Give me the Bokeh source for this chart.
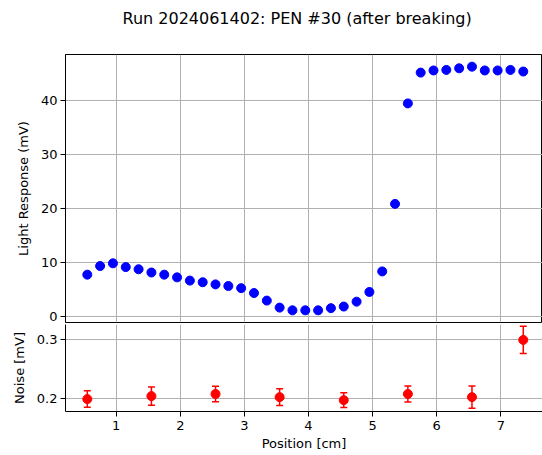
from bokeh.plotting import figure
from bokeh.models import Range1d, FixedTicker, Whisker, TeeHead, ColumnDataSource, LinearAxis
from bokeh.layouts import column
from bokeh.embed import file_html
from bokeh.resources import INLINE

title_text = "Run 2024061402: PEN #30 (after breaking)"

position = [0.55, 0.75, 0.95, 1.15, 1.35, 1.55, 1.75, 1.95, 2.15, 2.35,
            2.55, 2.75, 2.95, 3.15, 3.35, 3.55, 3.75, 3.95, 4.15, 4.35,
            4.55, 4.75, 4.95, 5.15, 5.35, 5.55, 5.75, 5.95, 6.15, 6.35,
            6.55, 6.75, 6.95, 7.15, 7.35]
light = [7.8, 9.4, 9.9, 9.2, 8.8, 8.2, 7.8, 7.3, 6.7, 6.4,
         6.0, 5.7, 5.3, 4.4, 3.0, 1.7, 1.2, 1.2, 1.2, 1.6,
         1.9, 2.8, 4.6, 8.4, 20.9, 39.5, 45.2, 45.6, 45.7, 46.0,
         46.3, 45.6, 45.6, 45.7, 45.4]

noise_pos = [0.55, 1.55, 2.55, 3.55, 4.55, 5.55, 6.55, 7.35]
noise = [0.199, 0.204, 0.2076, 0.2023, 0.1972, 0.2076, 0.2023, 0.299]
noise_err = [0.014, 0.0155, 0.013, 0.014, 0.0124, 0.0136, 0.019, 0.023]

x_ticks = [1, 2, 3, 4, 5, 6, 7]
light_ticks = [0, 10, 20, 30, 40]
noise_ticks = [0.2, 0.3]

FONT = "DejaVu Sans"
xr = Range1d(0.21, 7.65)


def style_axes(p):
    for ax in p.axis:
        ax.major_label_text_font = FONT
        ax.major_label_text_font_size = "13px"
        ax.major_label_text_color = "black"
        ax.axis_label_text_font = FONT
        ax.axis_label_text_font_size = "13px"
        ax.axis_label_text_font_style = "normal"
        ax.axis_label_text_color = "black"
        ax.major_tick_in = 0
        ax.major_tick_out = 5
        ax.major_tick_line_color = "black"
        ax.minor_tick_line_color = None
        ax.axis_line_color = "black"
    for g in p.grid:
        g.grid_line_color = "#b0b0b0"
        g.grid_line_width = 1


top = figure(width=542, height=324, x_range=xr, y_range=Range1d(-1.055, 48.555),
             output_backend="svg", toolbar_location=None,
             min_border_left=65, min_border_right=0, min_border_top=54, min_border_bottom=2)
top.xaxis.ticker = FixedTicker(ticks=x_ticks)
top.xgrid.ticker = FixedTicker(ticks=x_ticks)
top.yaxis.ticker = FixedTicker(ticks=light_ticks)
top.yaxis.axis_label = "Light Response (mV)"
style_axes(top)
top.xaxis.visible = False
top.yaxis.axis_label_standoff = 7
top.yaxis.major_label_standoff = 3
top.outline_line_color = "black"
top.outline_line_alpha = 1
top.outline_line_width = 1

# invisible spacer axis between the title and the frame
spacer = LinearAxis(ticker=FixedTicker(ticks=[4]), axis_line_color=None,
                    major_tick_line_color=None, minor_tick_line_color=None,
                    major_tick_out=25, major_tick_in=0,
                    major_label_overrides={4: ""}, major_label_standoff=0)
top.add_layout(spacer, "above")

top.title.text = title_text
top.title.text_font = FONT
top.title.text_font_size = "16px"
top.title.text_font_style = "normal"
top.title.text_color = "black"
top.title.align = "left"
top.title.offset = 57
top.title.standoff = 4

top.scatter(position, light, size=9, color="blue")

bot = figure(width=542, height=131, x_range=xr, y_range=Range1d(0.178, 0.3251),
             output_backend="svg", toolbar_location=None,
             min_border_left=65, min_border_right=0, min_border_top=0, min_border_bottom=44)
bot.xaxis.ticker = FixedTicker(ticks=x_ticks)
bot.yaxis.ticker = FixedTicker(ticks=noise_ticks)
bot.xaxis.axis_label = "Position [cm]"
bot.yaxis.axis_label = "Noise [mV]"
style_axes(bot)
bot.yaxis.axis_label_standoff = 7
bot.yaxis.major_label_standoff = 3
bot.xaxis.major_label_standoff = 4
bot.xaxis.axis_label_standoff = 3
bot.outline_line_color = None

src = ColumnDataSource(dict(x=noise_pos, y=noise,
                            lo=[v - e for v, e in zip(noise, noise_err)],
                            hi=[v + e for v, e in zip(noise, noise_err)]))
bot.add_layout(Whisker(source=src, base="x", lower="lo", upper="hi", dimension="height",
                       line_color="red", line_width=1.5,
                       lower_head=TeeHead(size=7, line_color="red", line_width=1.5),
                       upper_head=TeeHead(size=7, line_color="red", line_width=1.5)))
bot.scatter("x", "y", source=src, size=9, color="red")

layout = column(top, bot, spacing=0)
open("out.html", "w").write(file_html(layout, INLINE))
